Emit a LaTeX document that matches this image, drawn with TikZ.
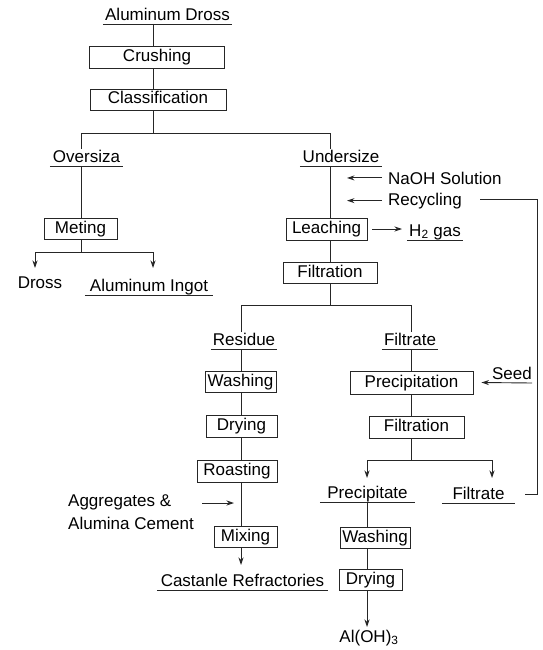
\documentclass[tikz,border=0pt]{standalone}
\usepackage{fontspec}
\setmainfont{Liberation Sans}
\usetikzlibrary{arrows.meta}
\begin{document}
\begin{tikzpicture}[x=1pt,y=-1pt,
  every node/.style={font=\fontsize{17}{23}\selectfont, inner sep=0pt},
  conn/.style={line width=0.9pt, draw=black!85},
  arr/.style={conn, -{Stealth[length=7.5pt,width=5pt]}},
  box/.style={draw=black!85, line width=0.9pt, minimum width=#1, minimum height=22pt, text height=12pt, text depth=3pt},
  ul/.style={minimum width=#1, text height=13pt, text depth=3.5pt, anchor=south},
]
\useasboundingbox (0,0) rectangle (542,650);

% --- top trunk
\node[ul=129pt] (dross0) at (167.5,24) {Aluminum Dross};
\node[box=135pt] (crush) at (157,57) {Crushing};
\node[box=136pt, minimum height=21pt] (classif) at (158,99.5) {Classification};
\coordinate (tA) at (153,133);
\coordinate (oX) at (81,133);
\coordinate (uX) at (330,133);
\draw[conn] (dross0.south -| tA) -- (crush.north -| tA);
\draw[conn] (crush.south -| tA) -- (classif.north -| tA);
\draw[conn] (classif.south -| tA) -- (tA);

\node[ul=73pt] (over) at (86.5,166) {Oversiza};
\node[ul=82pt] (under) at (341,166) {Undersize};
\draw[conn] (over.north -| oX) |- (uX) -- (under.north -| uX);

% --- oversize branch
\node[box=73pt, minimum height=21pt] (meting) at (80.5,228.5) {Meting};
\coordinate (mJ) at (81,252);
\coordinate (dA) at (35,268);
\coordinate (iA) at (153,268);
\draw[conn] (over.south -| oX) -- (meting.north -| oX);
\draw[conn] (meting.south -| oX) -- (mJ);
\draw[arr] (mJ) -| (dA);
\draw[arr] (mJ) -| (iA);
\node (drossout) at (40,283) {Dross};
\node[ul=128pt] (ingot) at (149,295) {Aluminum Ingot};

% --- undersize branch
\node[box=81pt] (leach) at (326.5,229) {Leaching};
\draw[conn] (under.south -| uX) -- (leach.north -| uX);
\node[anchor=base west] (naoh) at (388,184) {NaOH Solution};
\node[anchor=base west] (recyc) at (388,205) {Recycling};
\coordinate (naX) at (347,178);
\draw[arr] ([xshift=-6pt]naoh.west) -- (naoh.west -| naX);
\draw[arr] ([xshift=-6pt]recyc.west) -- (recyc.west -| naX);
\node[ul=56pt] (h2) at (435,240) {H\textsubscript{2} gas};
\coordinate (h2in) at (402,229);
\draw[arr] ([xshift=5pt]leach.east) -- (h2in);

\node[box=94pt, minimum height=21pt] (filt1) at (330,272.5) {Filtration};
\coordinate (fJ) at (330,305);
\coordinate (rX) at (241,305);
\coordinate (fX) at (411,305);
\draw[conn] (leach.south -| uX) -- (filt1.north -| uX);
\draw[conn] (filt1.south -| uX) -- (fJ);

\node[ul=66pt] (res) at (244,349) {Residue};
\node[ul=56pt] (filtA) at (410,349) {Filtrate};
\draw[conn] (res.north -| rX) |- (fX) -- (filtA.north -| fX);

% --- residue column
\node[box=71pt, minimum height=21pt] (wash1) at (240.5,381.5) {Washing};
\node[box=71pt] (dry1) at (241.5,426) {Drying};
\node[box=80pt] (roast) at (237,471) {Roasting};
\node[box=63pt, minimum height=21pt] (mix) at (245.5,536.5) {Mixing};
\draw[conn] (res.south -| rX) -- (wash1.north -| rX);
\draw[conn] (wash1.south -| rX) -- (dry1.north -| rX);
\draw[conn] (dry1.south -| rX) -- (roast.north -| rX);
\draw[conn] (roast.south -| rX) -- (mix.north -| rX);
\node[anchor=base west, align=left] (agg) at (68,529) {Aggregates \&\\Alumina Cement};
\coordinate (aggS) at (202,503);
\coordinate (aggT) at (234,503);
\draw[arr] (aggS) -- (aggT);
\coordinate (castA) at (241,565);
\draw[arr] (mix.south -| rX) -- (castA);
\node[ul=171pt] (cast) at (242.5,590) {Castanle Refractories};

% --- filtrate column
\node[box=123pt, minimum height=23pt] (precip) at (411.5,382.5) {Precipitation};
\node[ul=37pt, anchor=south east] (seed) at (532,383) {Seed};
\draw[arr] (seed.south east) -- ([xshift=8pt]precip.east);
\node[box=95pt] (filt2) at (416.5,427) {Filtration};
\draw[conn] (filtA.south -| fX) -- (precip.north -| fX);
\draw[conn] (precip.south -| fX) -- (filt2.north -| fX);
\coordinate (jB) at (411,460);
\coordinate (pA) at (367,478);
\coordinate (qA) at (492,478);
\draw[conn] (filt2.south -| fX) -- (jB);
\draw[arr] (jB) -| (pA);
\draw[arr] (jB) -| (qA);

\node[ul=95pt] (ppt) at (367.5,502) {Precipitate};
\node[ul=73pt] (filtB) at (478.5,503) {Filtrate};
\node[box=70pt, minimum height=21pt] (wash2) at (375,537.5) {Washing};
\node[box=63pt, minimum height=21pt] (dry2) at (370.5,580) {Drying};
\coordinate (alA) at (367,627);
\draw[conn] (ppt.south -| pA) -- (wash2.north -| pA);
\draw[conn] (wash2.south -| pA) -- (dry2.north -| pA);
\draw[arr] (dry2.south -| pA) -- (alA);
\node[anchor=base] (aloh) at (369,642) {Al(OH)\textsubscript{3}};

% --- recycling loop
\coordinate (rcTop) at (537,199);
\coordinate (rcEnd) at (480,199);
\draw[conn] ([xshift=10pt]filtB.east) -| (rcTop) -- (rcEnd);

% --- underlines of the labels
\foreach \n in {dross0,over,under,ingot,h2,res,filtA,cast,ppt,filtB}
  \draw[conn] (\n.south west) -- (\n.south east);
\end{tikzpicture}
\end{document}
